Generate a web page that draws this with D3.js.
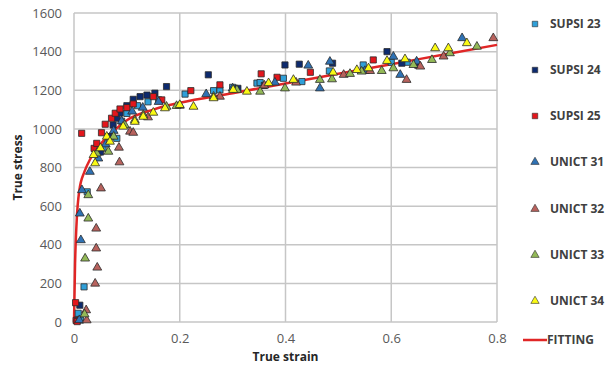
<!DOCTYPE html>
<html>
<head>
<meta charset="utf-8">
<script src="https://cdn.jsdelivr.net/npm/d3@7"></script>
<style>
  body { margin: 0; background: #fff; }
  text { font-family: "Open Sans", "Liberation Sans", sans-serif; }
</style>
</head>
<body>
<div id="app"></div>
<script>
// data: [strain, stress]
const supsi23 = [[0.008,45],[0.012,10],[0.019,182],[0.025,674],[0.055,900],[0.07,960],[0.081,951],[0.09,1040],[0.1,1080],[0.12,1120],[0.14,1140],[0.16,1150],[0.21,1180],[0.264,1198],[0.276,1202],[0.3,1215],[0.346,1237],[0.352,1240],[0.396,1262],[0.431,1245],[0.483,1300],[0.547,1331],[0.6,1345],[0.63,1345]];
const supsi24 = [[0.006,10],[0.011,87],[0.05,880],[0.065,960],[0.074,1020],[0.081,1055],[0.087,1082],[0.1,1120],[0.112,1153],[0.125,1167],[0.138,1175],[0.153,1185],[0.175,1219],[0.254,1280],[0.31,1210],[0.36,1225],[0.399,1331],[0.426,1335],[0.489,1340],[0.592,1400],[0.62,1340],[0.65,1330]];
const supsi25 = [[0.003,100],[0.004,8],[0.006,2],[0.0145,977],[0.038,899],[0.043,925],[0.052,980],[0.059,1024],[0.071,1055],[0.078,1081],[0.087,1103],[0.1,1110],[0.112,1129],[0.15,1167],[0.166,1150],[0.221,1198],[0.276,1228],[0.354,1285],[0.384,1267],[0.447,1293],[0.566,1357]];
const unict31 = [[0.01,10],[0.011,562],[0.013,424],[0.015,683],[0.03,778],[0.046,847],[0.06,920],[0.075,990],[0.09,1040],[0.11,1090],[0.13,1110],[0.16,1140],[0.25,1180],[0.3,1210],[0.38,1240],[0.443,1328],[0.465,1210],[0.484,1348],[0.55,1300],[0.604,1374],[0.617,1280],[0.648,1349],[0.734,1470]];
const unict32 = [[0.024,9],[0.023,61],[0.04,199],[0.044,282],[0.042,381],[0.042,484],[0.051,692],[0.086,827],[0.085,903],[0.106,986],[0.112,980],[0.14,1060],[0.2,1120],[0.276,1167],[0.36,1225],[0.42,1240],[0.51,1280],[0.56,1300],[0.629,1254],[0.655,1323],[0.699,1375],[0.793,1470]];
const unict33 = [[0.02,40],[0.021,329],[0.027,536],[0.027,657],[0.043,873],[0.065,882],[0.075,960],[0.096,1020],[0.115,1046],[0.131,1072],[0.175,1115],[0.194,1119],[0.264,1167],[0.308,1202],[0.352,1193],[0.399,1210],[0.465,1254],[0.488,1257],[0.522,1285],[0.544,1297],[0.582,1300],[0.604,1314],[0.642,1331],[0.677,1357],[0.711,1392],[0.762,1426]];
const unict34 = [[0.037,865],[0.04,822],[0.05,900],[0.062,960],[0.068,934],[0.093,1012],[0.115,1037],[0.131,1063],[0.15,1084],[0.172,1107],[0.2,1124],[0.226,1115],[0.264,1159],[0.301,1202],[0.327,1193],[0.368,1237],[0.415,1254],[0.49,1292],[0.535,1305],[0.557,1314],[0.592,1352],[0.626,1361],[0.683,1418],[0.708,1418],[0.743,1444]];

const fitStrain = [0, 0.002, 0.005, 0.01, 0.02, 0.03, 0.05, 0.075, 0.1, 0.15, 0.2, 0.3, 0.4, 0.5, 0.6, 0.7, 0.8];
const fitStress = [0, 300, 520, 680, 780, 840, 920, 990, 1045, 1100, 1135, 1185, 1235, 1285, 1335, 1385, 1435];

const xTicks = [0, 0.2, 0.4, 0.6, 0.8];
const yTicks = [0, 200, 400, 600, 800, 1000, 1200, 1400, 1600];

const series = [
  { name: "SUPSI 23", data: supsi23, shape: "square", color: "#2f9fd8" },
  { name: "SUPSI 24", data: supsi24, shape: "square", color: "#0d2a6e" },
  { name: "SUPSI 25", data: supsi25, shape: "square", color: "#e3161c" },
  { name: "UNICT 31", data: unict31, shape: "triangle", color: "#2f72b4" },
  { name: "UNICT 32", data: unict32, shape: "triangle", color: "#b8625d" },
  { name: "UNICT 33", data: unict33, shape: "triangle", color: "#93b957" },
  { name: "UNICT 34", data: unict34, shape: "triangle", color: "#fafa14" }
];

const width = 605, height = 372;
const plotL = 74, plotR = 497, plotT = 13, plotB = 322;

const svg = d3.select("#app").append("svg")
  .attr("width", width)
  .attr("height", height);

const x = d3.scaleLinear().domain([0, 0.8]).range([plotL, plotR]);
const y = d3.scaleLinear().domain([0, 1600]).range([plotB, plotT]);

/* grid */
const grid = svg.append("g");
grid.selectAll("line.h").data(yTicks).enter().append("line")
  .attr("x1", plotL).attr("x2", plotR)
  .attr("y1", d => y(d)).attr("y2", d => y(d))
  .attr("stroke", "#c6c6c6").attr("stroke-width", 1.5);
grid.selectAll("line.v").data(xTicks).enter().append("line")
  .attr("y1", plotT).attr("y2", plotB)
  .attr("x1", d => x(d)).attr("x2", d => x(d))
  .attr("stroke", "#c6c6c6").attr("stroke-width", 1.5);

/* axes, labels only */
const yAxis = svg.append("g")
  .attr("transform", `translate(${plotL},0)`)
  .call(d3.axisLeft(y).tickValues(yTicks).tickSize(0).tickPadding(12).tickFormat(d3.format("d")));
const xAxis = svg.append("g")
  .attr("transform", `translate(0,${plotB})`)
  .call(d3.axisBottom(x).tickValues(xTicks).tickSize(0).tickPadding(12).tickFormat(d3.format("")));
[yAxis, xAxis].forEach(a => {
  a.select(".domain").remove();
  a.selectAll("text")
    .attr("fill", "#595959")
    .style("font-size", "13px")
    .style("font-family", "'Open Sans', sans-serif");
});

svg.append("text")
  .attr("x", (plotL + plotR) / 2).attr("y", 361)
  .attr("text-anchor", "middle")
  .attr("font-size", 12).attr("font-weight", "bold").attr("fill", "#262626")
  .text("True strain");
svg.append("text")
  .attr("transform", `translate(22,${(plotT + plotB) / 2}) rotate(-90)`)
  .attr("text-anchor", "middle")
  .attr("font-size", 12).attr("font-weight", "bold").attr("fill", "#262626")
  .text("True stress");

/* fitting curve */
const fit = fitStrain.map((s, i) => [s, fitStress[i]]);
const line = d3.line().x(d => x(d[0])).y(d => y(d[1])).curve(d3.curveMonotoneX);
svg.append("path")
  .datum(fit)
  .attr("d", line)
  .attr("fill", "none")
  .attr("stroke", "#e02626")
  .attr("stroke-width", 2.5);

/* markers */
const sq = d3.symbol().type(d3.symbolSquare).size(38);
const tri = d3.symbol().type(d3.symbolTriangle).size(34);
series.forEach(s => {
  svg.append("g").selectAll("path")
    .data(s.data).enter().append("path")
    .attr("d", s.shape === "square" ? sq : tri)
    .attr("transform", d => `translate(${x(d[0])},${y(d[1])})`)
    .attr("fill", s.color)
    .attr("stroke", "#2b2b2b")
    .attr("stroke-width", 0.8);
});

/* legend */
const legend = svg.append("g");
const rowY = [24, 70, 116, 162, 209, 255, 301];
series.forEach((s, i) => {
  const g = legend.append("g").attr("transform", `translate(535,${rowY[i]})`);
  g.append("path")
    .attr("d", s.shape === "square" ? d3.symbol().type(d3.symbolSquare).size(30) : d3.symbol().type(d3.symbolTriangle).size(30))
    .attr("fill", s.color).attr("stroke", "#2b2b2b").attr("stroke-width", 0.6);
  g.append("text")
    .attr("x", 15).attr("dy", "0.35em")
    .attr("font-size", 12).attr("font-weight", "bold").attr("fill", "#404040")
    .text(s.name);
});
const fl = legend.append("g").attr("transform", "translate(523,340)");
fl.append("line").attr("x1", 0).attr("x2", 24)
  .attr("stroke", "#e02626").attr("stroke-width", 2.5);
fl.append("text")
  .attr("x", 24).attr("dy", "0.35em")
  .attr("font-size", 12).attr("font-weight", "bold").attr("fill", "#404040")
  .text("FITTING");
</script>
</body>
</html>
